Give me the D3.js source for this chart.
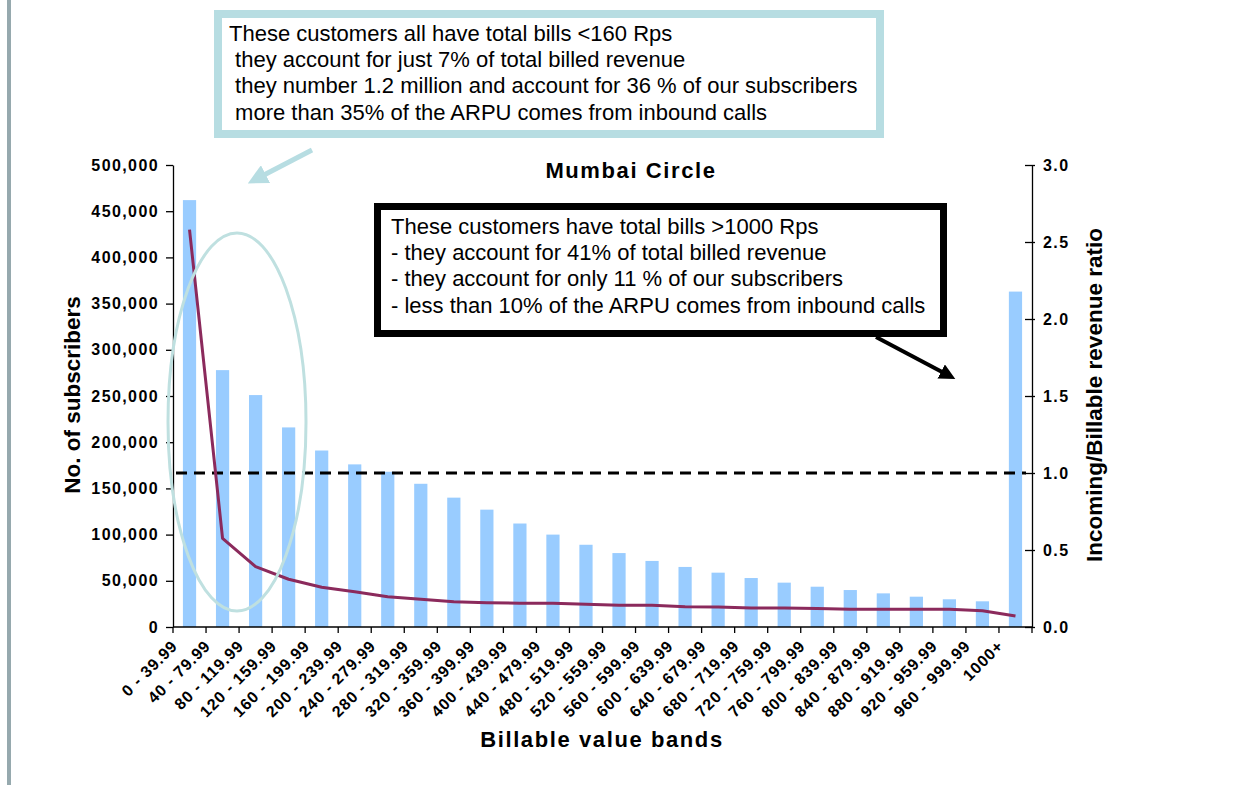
<!DOCTYPE html>
<html>
<head>
<meta charset="utf-8">
<script src="https://cdn.jsdelivr.net/npm/d3@7"></script>
<style>
  html, body { margin: 0; padding: 0; background: #ffffff; }
  svg { display: block; font-family: "Liberation Sans", Arial, sans-serif; }
</style>
</head>
<body>
<svg id="chart" width="1249" height="785"></svg>
<script>
// Billable value bands (Rps)
const categories = [
  "0 - 39.99", "40 - 79.99", "80 - 119.99", "120 - 159.99", "160 - 199.99",
  "200 - 239.99", "240 - 279.99", "280 - 319.99", "320 - 359.99", "360 - 399.99",
  "400 - 439.99", "440 - 479.99", "480 - 519.99", "520 - 559.99", "560 - 599.99",
  "600 - 639.99", "640 - 679.99", "680 - 719.99", "720 - 759.99", "760 - 799.99",
  "800 - 839.99", "840 - 879.99", "880 - 919.99", "920 - 959.99", "960 - 999.99",
  "1000+"
];

// Number of subscribers per band
const subscribers = [
  462000, 278000, 251000, 216000, 191000, 176000, 168000, 155000, 140000, 127000,
  112000, 100000, 89000, 80000, 71500, 65000, 58800, 53000, 48000, 43600,
  40000, 36400, 32800, 30000, 27800, 363000
];

// Incoming / billable revenue ratio per band
const ratio = [
  2.58, 0.576, 0.392, 0.31, 0.258, 0.229, 0.197, 0.18, 0.164, 0.158,
  0.154, 0.154, 0.147, 0.141, 0.141, 0.132, 0.13, 0.123, 0.123, 0.12,
  0.115, 0.115, 0.115, 0.115, 0.106, 0.071
];

const leftTicks = [0, 50000, 100000, 150000, 200000, 250000, 300000, 350000, 400000, 450000, 500000];
const rightTicks = [0, 0.5, 1.0, 1.5, 2.0, 2.5, 3.0];
const referenceRatio = 1.0;

const chartTitle = "Mumbai Circle";
const xTitle = "Billable value bands";
const yLeftTitle = "No. of subscribers";
const yRightTitle = "Incoming/Billable revenue ratio";

const noteLow = [
  "These customers all have total bills <160 Rps",
  " they account for just 7% of total billed revenue",
  " they number 1.2 million and account for 36 % of our subscribers",
  " more than 35% of the ARPU comes from inbound calls"
];
const noteHigh = [
  "These customers have total bills >1000 Rps",
  "- they account for 41% of total billed revenue",
  "- they account for only 11 % of our subscribers",
  "- less than 10% of the ARPU comes from inbound calls"
];

const svg = d3.select("#chart");
const plot = { left: 173, right: 1032, top: 165, bottom: 627 };

const x = d3.scaleBand()
  .domain(categories)
  .range([plot.left, plot.right])
  .paddingInner(0.6)
  .paddingOuter(0.3);
const y = d3.scaleLinear().domain([0, 500000]).range([plot.bottom, plot.top]);
const yR = d3.scaleLinear().domain([0, 3]).range([plot.bottom, plot.top]);
const cx = d => x(d) + x.bandwidth() / 2;

// slide margin rule
svg.append("rect").attr("x", 7).attr("y", 0).attr("width", 4).attr("height", 785).attr("fill", "#96a9ae");

// bars
svg.append("g").selectAll("rect")
  .data(categories)
  .join("rect")
  .attr("x", d => x(d))
  .attr("width", x.bandwidth())
  .attr("y", (d, i) => y(subscribers[i]))
  .attr("height", (d, i) => plot.bottom - y(subscribers[i]))
  .attr("fill", "#99ccff");

// ratio = 1 reference line
svg.append("line")
  .attr("x1", plot.left + 3).attr("x2", plot.right - 6)
  .attr("y1", yR(referenceRatio)).attr("y2", yR(referenceRatio))
  .attr("stroke", "#000").attr("stroke-width", 3)
  .attr("stroke-dasharray", "11,7");

// ratio line
svg.append("path")
  .datum(categories)
  .attr("fill", "none")
  .attr("stroke", "#8b2a5c")
  .attr("stroke-width", 3)
  .attr("stroke-linejoin", "round")
  .attr("d", d3.line().x(d => cx(d)).y((d, i) => yR(ratio[i])));

// left axis
const gL = svg.append("g")
  .attr("transform", `translate(${plot.left},0)`)
  .call(d3.axisLeft(y).tickValues(leftTicks).tickSize(7).tickSizeOuter(0).tickFormat(d3.format(",")));
gL.selectAll("text")
  .attr("x", -14)
  .style("font-size", "16px").style("font-weight", "bold").style("letter-spacing", "1.4px")
  .attr("fill", "#000");
gL.selectAll("line, path").attr("stroke", "#000").attr("stroke-width", 1.3);

// right axis
const gR = svg.append("g")
  .attr("transform", `translate(${plot.right},0)`)
  .call(d3.axisRight(yR).tickValues(rightTicks).tickSize(3).tickSizeOuter(0).tickFormat(d3.format(".1f")));
gR.selectAll(".tick line").attr("x1", -7);
gR.selectAll("text")
  .attr("x", 11)
  .style("font-size", "16px").style("font-weight", "bold").style("letter-spacing", "1.4px")
  .attr("fill", "#000");
gR.selectAll("line, path").attr("stroke", "#000").attr("stroke-width", 1.3);

// bottom axis: ticks on band edges, labels rotated under band centres
const gB = svg.append("g");
gB.append("line")
  .attr("x1", plot.left).attr("x2", plot.right)
  .attr("y1", plot.bottom).attr("y2", plot.bottom)
  .attr("stroke", "#000").attr("stroke-width", 1.3);
const edges = categories.map(d => x(d) - x.step() * x.paddingInner() / 2).concat([plot.right]);
gB.selectAll("line.tk")
  .data(edges)
  .join("line")
  .attr("class", "tk")
  .attr("x1", d => d).attr("x2", d => d)
  .attr("y1", plot.bottom).attr("y2", plot.bottom + 6)
  .attr("stroke", "#000").attr("stroke-width", 1.3);
gB.selectAll("text")
  .data(categories)
  .join("text")
  .attr("transform", d => `translate(${cx(d) - 11},${plot.bottom + 20}) rotate(-45)`)
  .attr("text-anchor", "end")
  .style("font-size", "16px").style("font-weight", "bold").style("letter-spacing", "0.9px")
  .text(d => d);

// titles
svg.append("text")
  .attr("x", 631).attr("y", 178)
  .attr("text-anchor", "middle")
  .style("font-size", "22px").style("font-weight", "bold").style("letter-spacing", "1.6px")
  .text(chartTitle);
svg.append("text")
  .attr("x", 602).attr("y", 747)
  .attr("text-anchor", "middle")
  .style("font-size", "22px").style("font-weight", "bold").style("letter-spacing", "1.6px")
  .text(xTitle);
svg.append("text")
  .attr("transform", "translate(80,395) rotate(-90)")
  .attr("text-anchor", "middle")
  .style("font-size", "22.5px").style("font-weight", "bold")
  .text(yLeftTitle);
svg.append("text")
  .attr("transform", "translate(1102,395) rotate(-90)")
  .attr("text-anchor", "middle")
  .style("font-size", "22.5px").style("font-weight", "bold")
  .text(yRightTitle);

// highlight around the low-bill bands
svg.append("ellipse")
  .attr("cx", 237).attr("cy", 422).attr("rx", 69).attr("ry", 189)
  .attr("fill", "none").attr("stroke", "#bfe0e0").attr("stroke-width", 3);

// callout boxes
function callout(lines, box, stroke, sw, tx, ty0) {
  svg.append("rect")
    .attr("x", box[0] + sw / 2).attr("y", box[1] + sw / 2)
    .attr("width", box[2] - sw).attr("height", box[3] - sw)
    .attr("fill", "#fff").attr("stroke", stroke).attr("stroke-width", sw);
  svg.append("g").selectAll("text")
    .data(lines)
    .join("text")
    .attr("x", tx).attr("y", (d, i) => ty0 + i * 26.2)
    .style("font-size", "22px").style("white-space", "pre")
    .attr("xml:space", "preserve")
    .text(d => d);
}
callout(noteLow, [214, 10, 670, 128], "#b7dde2", 8, 229, 41);
callout(noteHigh, [374, 203, 573, 134], "#000", 7, 391, 234);

// arrows
const defs = svg.append("defs");
function arrowHead(id, color) {
  defs.append("marker")
    .attr("id", id).attr("viewBox", "0 0 10 10")
    .attr("refX", 2).attr("refY", 5)
    .attr("markerWidth", 4).attr("markerHeight", 4)
    .attr("orient", "auto")
    .append("path").attr("d", "M0,0L10,5L0,10z").attr("fill", color);
}
arrowHead("headBlue", "#b7dde2");
arrowHead("headBlack", "#000");
svg.append("line")
  .attr("x1", 312).attr("y1", 150).attr("x2", 262).attr("y2", 176)
  .attr("stroke", "#b7dde2").attr("stroke-width", 5)
  .attr("marker-end", "url(#headBlue)");
svg.append("line")
  .attr("x1", 876).attr("y1", 337).attr("x2", 944).attr("y2", 373)
  .attr("stroke", "#000").attr("stroke-width", 4)
  .attr("marker-end", "url(#headBlack)");
</script>
</body>
</html>
